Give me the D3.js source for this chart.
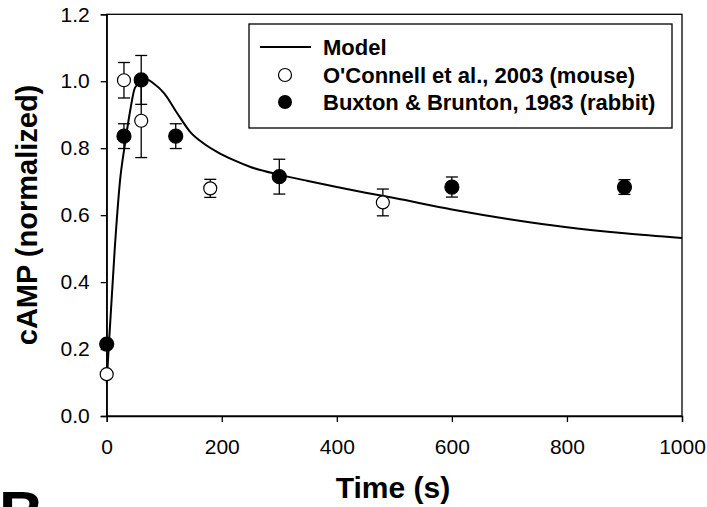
<!DOCTYPE html>
<html><head><meta charset="utf-8">
<script src="https://cdnjs.cloudflare.com/ajax/libs/d3/7.8.5/d3.min.js"></script>
<style>body{margin:0;background:#fff;} svg{display:block;} text{font-family:"Liberation Sans",Arial,sans-serif;}</style>
</head><body>
<script>
// Model curve
const modelTime = [0,4,14,23,32,41,49,60,70,81,100,122,145,168,191,220,250,300,350,400,450,500,600,700,800,900,1000];
const modelValue = [0.10,0.22,0.50,0.70,0.815,0.914,0.98,1.0,1.005,0.994,0.964,0.906,0.849,0.815,0.79,0.765,0.744,0.721,0.702,0.684,0.667,0.651,0.617,0.588,0.564,0.546,0.532];
// O'Connell et al., 2003 (mouse)
const oconnellTime = [0,30,60,180,480];
const oconnellValue = [0.125,1.003,0.882,0.680,0.638];
const oconnellErr = [0,0.053,0.11,0.027,0.04];
// Buxton & Brunton, 1983 (rabbit)
const buxtonTime = [0,30,60,120,300,600,900];
const buxtonValue = [0.215,0.836,1.004,0.836,0.715,0.684,0.684];
const buxtonErr = [0,0.037,0.073,0.037,0.052,0.03,0.022];
const xTicks = [0,200,400,600,800,1000];
const yTicks = [0,0.2,0.4,0.6,0.8,1.0,1.2];
const legendLabels = ["Model","O'Connell et al., 2003 (mouse)","Buxton & Brunton, 1983 (rabbit)"];

const W=707,H=507;
const svg=d3.select("body").append("svg").attr("width",W).attr("height",H);
const x=d3.scaleLinear().domain([0,1000]).range([106.7,682]);
const y=d3.scaleLinear().domain([0,1.2]).range([416,14.3]);

// frame
svg.append("rect").attr("x",x(0)).attr("y",y(1.2)).attr("width",x(1000)-x(0)).attr("height",y(0)-y(1.2))
  .attr("fill","none").attr("stroke","#000").attr("stroke-width",1.3);

const xa=svg.append("g").attr("transform",`translate(0,${y(0)})`)
  .call(d3.axisBottom(x).tickValues(xTicks).tickSize(6).tickPadding(17).tickFormat(d3.format("d")));
const ya=svg.append("g").attr("transform",`translate(${x(0)},0)`)
  .call(d3.axisLeft(y).tickValues(yTicks).tickSize(6).tickPadding(11).tickFormat(d3.format(".1f")));
[xa,ya].forEach(a=>{a.select(".domain").attr("stroke-width",1.3);a.selectAll(".tick line").attr("stroke-width",1.3);
  a.selectAll("text").attr("font-size",21).attr("fill","#000").style("font-family","'Liberation Sans',Arial,sans-serif");});

// model line
const pts=modelTime.map((t,i)=>[t,modelValue[i]]);
svg.append("path").datum(pts).attr("fill","none").attr("stroke","#000").attr("stroke-width",2)
  .attr("d",d3.line().x(d=>x(d[0])).y(d=>y(d[1])).curve(d3.curveMonotoneX));

function series(times,vals,errs,fill){
  const g=svg.append("g");
  times.forEach((t,i)=>{
    if(errs[i]>0){
      const cx=x(t), y1=y(vals[i]+errs[i]), y2=y(vals[i]-errs[i]);
      g.append("line").attr("x1",cx).attr("x2",cx).attr("y1",y1).attr("y2",y2).attr("stroke","#000").attr("stroke-width",1.3);
      [y1,y2].forEach(yy=>g.append("line").attr("x1",cx-6).attr("x2",cx+6).attr("y1",yy).attr("y2",yy).attr("stroke","#000").attr("stroke-width",1.3));
    }
  });
  times.forEach((t,i)=>{
    g.append("circle").attr("cx",x(t)).attr("cy",y(vals[i])).attr("r",fill?7:6.5)
      .attr("fill",fill?"#000":"#fff").attr("stroke","#000").attr("stroke-width",1.2);
  });
}
series(oconnellTime,oconnellValue,oconnellErr,false);
series(buxtonTime,buxtonValue,buxtonErr,true);

// legend
const lg=svg.append("g");
lg.append("rect").attr("x",249).attr("y",24).attr("width",423).attr("height",104).attr("fill","#fff").attr("stroke","#000").attr("stroke-width",1.3);
const rows=[47,75,102];
lg.append("line").attr("x1",260).attr("x2",311).attr("y1",rows[0]).attr("y2",rows[0]).attr("stroke","#000").attr("stroke-width",2);
lg.append("circle").attr("cx",285).attr("cy",rows[1]).attr("r",6.5).attr("fill","#fff").attr("stroke","#000").attr("stroke-width",1.2);
lg.append("circle").attr("cx",285).attr("cy",rows[2]).attr("r",7).attr("fill","#000");
legendLabels.forEach((s,i)=>lg.append("text").attr("x",323).attr("y",rows[i]).attr("dy","0.36em")
  .attr("font-size",22).attr("font-weight","bold").text(s));

// axis titles
svg.append("text").attr("x",393).attr("y",498).attr("text-anchor","middle").attr("font-size",30).attr("font-weight","bold").text("Time (s)");
svg.append("text").attr("transform","translate(37,215) rotate(-90)").attr("text-anchor","middle").attr("font-size",29).attr("font-weight","bold").text("cAMP (normalized)");
// panel label (cut off at the bottom edge, as in the reference)
svg.append("text").attr("x",-1).attr("y",534).attr("font-size",62).attr("font-weight","bold").text("B");
</script>
</body></html>
